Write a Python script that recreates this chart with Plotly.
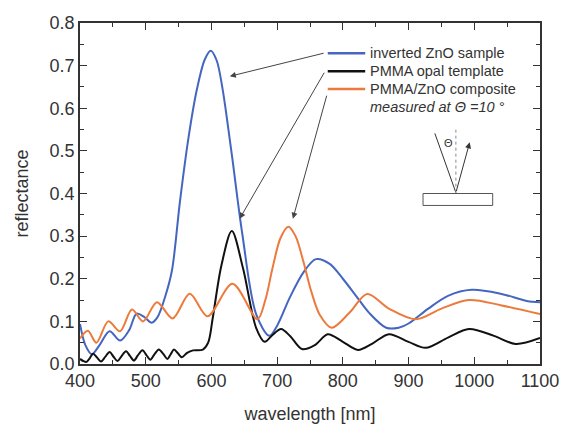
import plotly.graph_objects as go

# ---- data ----
wl_blue = [400, 408, 418, 430, 445, 461, 475, 486, 498, 509, 518, 530, 540, 552, 565, 578, 590, 599, 608, 617, 625, 632, 647, 668, 688, 700, 719, 740, 759, 780, 800, 820, 840, 866, 885, 900, 930, 960, 996, 1040, 1080, 1100]
r_blue = [0.094, 0.045, 0.023, 0.045, 0.077, 0.055, 0.08, 0.118, 0.11, 0.097, 0.11, 0.16, 0.22, 0.38, 0.53, 0.645, 0.715, 0.735, 0.712, 0.645, 0.56, 0.48, 0.305, 0.117, 0.066, 0.09, 0.155, 0.215, 0.246, 0.235, 0.20, 0.16, 0.12, 0.085, 0.085, 0.095, 0.13, 0.16, 0.174, 0.165, 0.148, 0.145]

wl_black = [400, 405, 410, 415, 420, 426, 432, 438, 445, 451, 457, 463, 470, 476, 482, 488, 495, 501, 507, 513, 520, 527, 533, 538, 543, 549, 555, 563, 572, 587, 595, 602, 615, 631, 648, 668, 681, 693, 706, 720, 738, 758, 777, 800, 823, 845, 870, 900, 926, 960, 992, 1030, 1063, 1100]
r_black = [0.012, 0.007, 0.005, 0.014, 0.024, 0.015, 0.006, 0.016, 0.028, 0.017, 0.007, 0.018, 0.03, 0.019, 0.008, 0.02, 0.032, 0.021, 0.01, 0.022, 0.034, 0.023, 0.012, 0.023, 0.034, 0.025, 0.016, 0.026, 0.032, 0.034, 0.05, 0.108, 0.23, 0.312, 0.225, 0.085, 0.052, 0.068, 0.082, 0.065, 0.035, 0.045, 0.07, 0.052, 0.033, 0.048, 0.07, 0.052, 0.038, 0.062, 0.082, 0.066, 0.047, 0.061]

wl_orange = [400, 412, 425, 443, 461, 479, 496, 517, 541, 567, 594, 632, 670, 682, 693, 705, 717, 728, 740, 752, 765, 783, 810, 837, 870, 911, 950, 992, 1040, 1100]
r_orange = [0.06, 0.078, 0.05, 0.1, 0.077, 0.128, 0.1, 0.145, 0.107, 0.165, 0.112, 0.188, 0.105, 0.15, 0.225, 0.295, 0.322, 0.3, 0.24, 0.17, 0.115, 0.085, 0.12, 0.164, 0.13, 0.105, 0.13, 0.15, 0.138, 0.117]

series_names = ["inverted ZnO sample", "PMMA opal template", "PMMA/ZnO composite"]
note_text = "measured at \u0398 =10 \u00b0"

C_BLUE = "#4466c0"
C_BLACK = "#111111"
C_ORANGE = "#ec7a3c"
FONT = "Liberation Sans, Arial, sans-serif"

fig = go.Figure()
for wl, r, c in [(wl_blue, r_blue, C_BLUE), (wl_black, r_black, C_BLACK), (wl_orange, r_orange, C_ORANGE)]:
    fig.add_trace(go.Scatter(x=wl, y=r, mode="lines", line=dict(color=c, width=2, shape="spline", smoothing=0.9),
                             showlegend=False, hoverinfo="skip"))

# in-plot legend: short line samples + labels
leg_y = [0.729, 0.687, 0.645]
for (c, name, yy) in zip([C_BLUE, C_BLACK, C_ORANGE], series_names, leg_y):
    fig.add_shape(type="line", x0=777, x1=834, y0=yy, y1=yy, line=dict(color=c, width=2.5))
    fig.add_annotation(x=838, y=yy, text=name, showarrow=False, xanchor="left", yanchor="middle",
                       font=dict(family=FONT, size=14.5, color="#333"))
fig.add_annotation(x=838, y=0.603, text="<i>" + note_text + "</i>", showarrow=False, xanchor="left",
                   yanchor="middle", font=dict(family=FONT, size=14.5, color="#333"))

# pointer arrows from legend to peaks
arrows = [((773, 0.73), (628, 0.675)), ((773, 0.687), (643, 0.341)), ((776, 0.633), (724, 0.341))]
for (tx, ty), (hx, hy) in arrows:
    fig.add_annotation(x=hx, y=hy, ax=tx, ay=ty, xref="x", yref="y", axref="x", ayref="y", text="",
                       showarrow=True, arrowhead=2, arrowsize=1.2, arrowwidth=1, arrowcolor="#444")

# inset sketch: sample slab, incident beam, reflected beam, normal, angle label
fig.add_shape(type="rect", x0=922, x1=1028, y0=0.372, y1=0.400, line=dict(color="#555", width=1), fillcolor="white")
fig.add_shape(type="line", x0=940, y0=0.541, x1=972, y1=0.402, line=dict(color="#333", width=1))
fig.add_shape(type="line", x0=972, y0=0.402, x1=972, y1=0.555, line=dict(color="#888", width=1, dash="dot"))
fig.add_annotation(x=993, y=0.52, ax=972, ay=0.402, xref="x", yref="y", axref="x", ayref="y", text="",
                   showarrow=True, arrowhead=2, arrowsize=1.2, arrowwidth=1, arrowcolor="#333")
fig.add_annotation(x=960, y=0.518, text="\u0398", showarrow=False, font=dict(family=FONT, size=11, color="#333"))

axis_common = dict(showgrid=False, zeroline=False, showline=True, linecolor="#333", linewidth=1.5,
                   mirror="allticks", ticks="inside", ticklen=7, tickwidth=1.2, tickcolor="#333",
                   automargin=False, tickfont=dict(family=FONT, size=18, color="#333"))

fig.update_xaxes(range=[400, 1100], dtick=100, tick0=400,
                 minor=dict(ticks="inside", ticklen=4, dtick=50, tick0=400, tickcolor="#333"),
                 title=dict(text="wavelength [nm]", font=dict(family=FONT, size=18, color="#333"), standoff=17),
                 **axis_common)
fig.update_yaxes(range=[0, 0.8], dtick=0.1, tick0=0, tickformat=".1f",
                 minor=dict(ticks="inside", ticklen=4, dtick=0.05, tick0=0, tickcolor="#333"),
                 title=dict(text="reflectance", font=dict(family=FONT, size=18, color="#333"), standoff=16),
                 **axis_common)

fig.update_layout(width=565, height=426, margin=dict(l=80, r=25, t=23, b=62),
                  plot_bgcolor="white", paper_bgcolor="white", showlegend=False)

fig.write_html("out.html")
